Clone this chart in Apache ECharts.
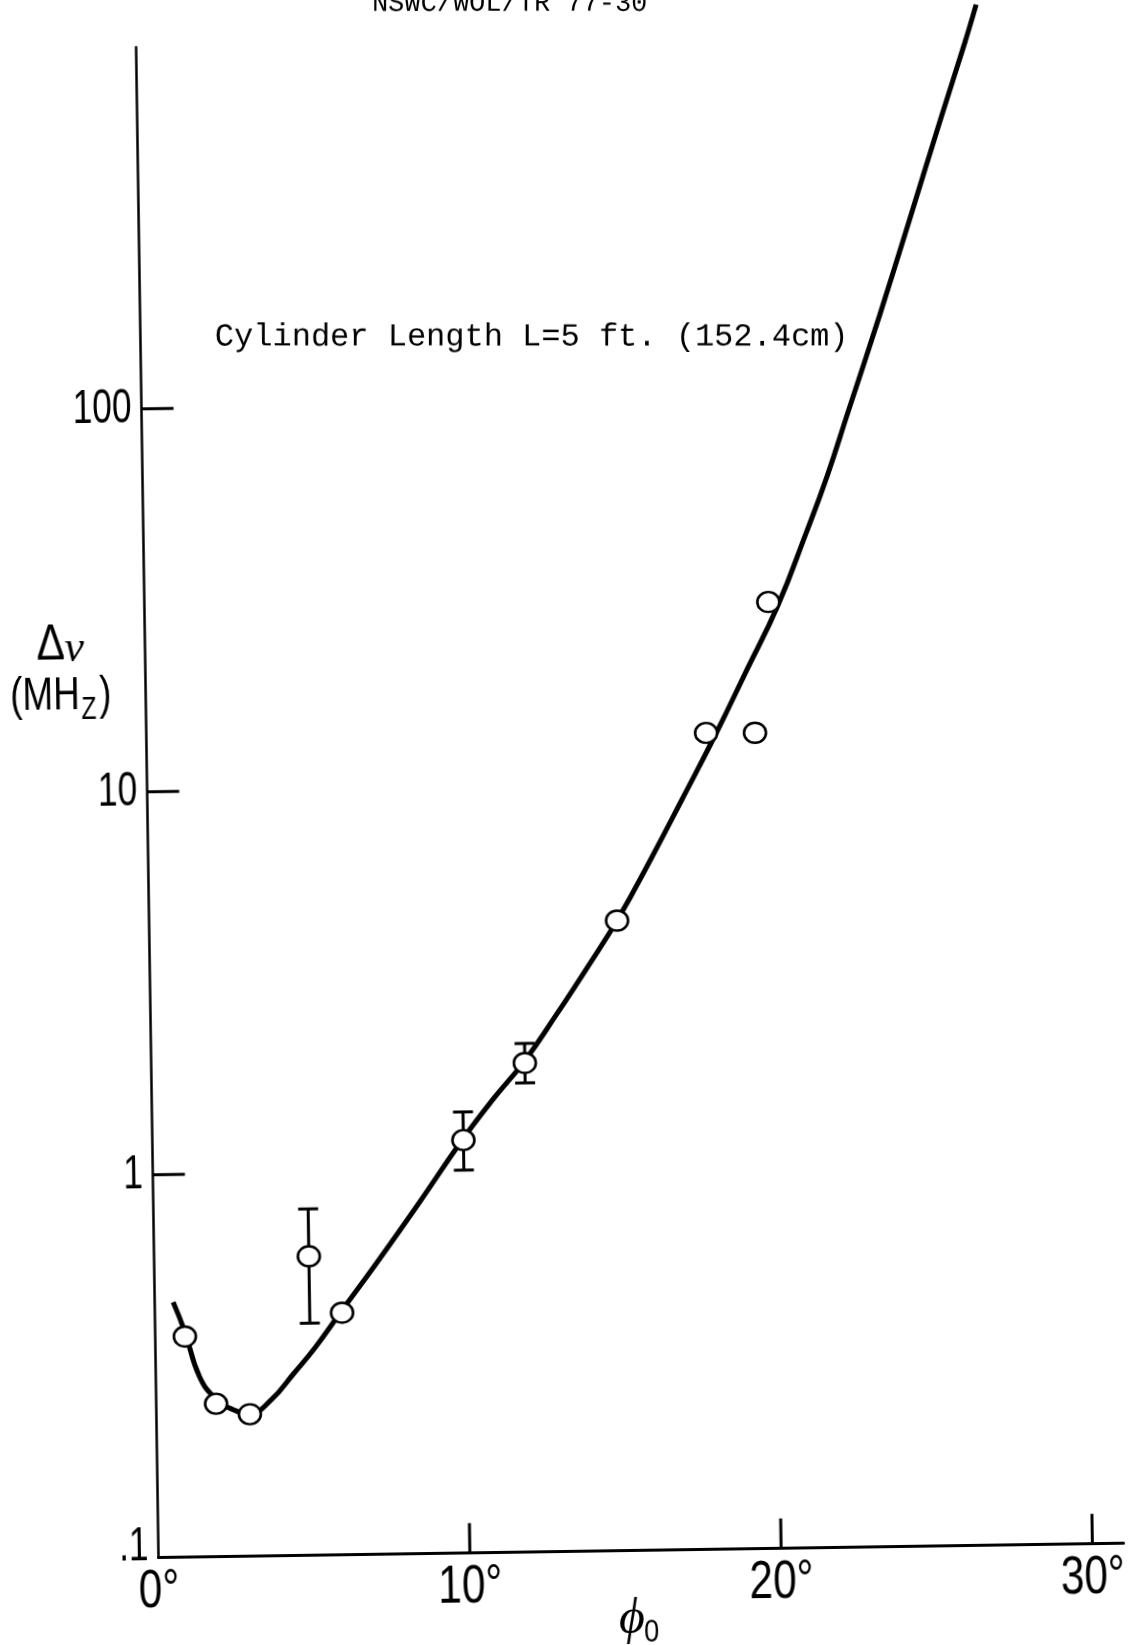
<!DOCTYPE html>
<html><head><meta charset="utf-8">
<script src="https://cdn.jsdelivr.net/npm/echarts@6/dist/echarts.min.js"></script>
<style>
html,body{margin:0;padding:0;background:#fff;width:1147px;height:1645px;overflow:hidden;}
#chart{position:absolute;left:0;top:0;width:1147px;height:1700px;transform:rotate(-0.85deg);transform-origin:158.6px 1557.7px;}
</style></head><body><div id="chart"></div>
<script>
// ---- data ----
const xLabelValues = [0, 10, 20, 30];
const xLabels = ['0°', '10°', '20°', '30°'];
const xTickValues = [10, 20, 30];
const yLabelValues = [0.1, 1, 10, 100];
const yLabels = ['.1', '1', '10', '100'];
const yTickValues = [1, 10, 100];

const phiMeasured = [0.95, 1.92, 3.0, 4.97, 6.01, 9.99, 12.0, 15.03, 17.98, 19.55, 20.04];
const dvMeasured  = [0.377, 0.251, 0.235, 0.604, 0.429, 1.198, 1.894, 4.42, 13.55, 13.5, 29.6];

const errPhi  = [4.97, 9.99, 12.0];
const errLow  = [0.404, 1.0, 1.68];
const errHigh = [0.803, 1.419, 2.13];

const curvePhi = [0.59, 0.95, 1.40, 1.92, 2.46, 3.00, 3.68, 4.43, 5.12, 5.98, 7.18, 8.56, 9.97, 10.97, 12.00, 13.03, 14.07, 15.10, 16.14, 17.18, 18.32, 19.26, 20.34, 21.28, 21.99, 22.69, 23.75, 24.74, 25.83, 26.61, 27.00];
const curveDv  = [0.464, 0.388, 0.296, 0.258, 0.242, 0.236, 0.255, 0.299, 0.348, 0.432, 0.582, 0.830, 1.205, 1.53, 1.92, 2.52, 3.36, 4.52, 6.37, 9.12, 13.6, 19.3, 28.9, 44.5, 62.8, 92.0, 164, 288, 539, 835, 1054];

const headerText = 'NSWC/WOL/TR 77-30';
const noteText = 'Cylinder Length L=5 ft. (152.4cm)';

// ---- chart ----
const SANS = "'Liberation Sans','DejaVu Sans',sans-serif";
const SERIF = "'Liberation Serif','DejaVu Serif',serif";
const MONO = "'Liberation Mono','DejaVu Sans Mono',monospace";
const UNROT = -0.85 * Math.PI / 180;
const chart = echarts.init(document.getElementById('chart'), null, {renderer: 'canvas'});

function txt(x, y, text, font, align, vAlign, extra) {
  return Object.assign({
    type: 'text', x: x, y: y, silent: true,
    style: {text: text, font: font, fill: '#000', align: align, verticalAlign: vAlign, textAlign: align, textVerticalAlign: vAlign}
  }, extra || {});
}

chart.setOption({
  animation: false,
  backgroundColor: 'transparent',
  grid: {left: 158.6, right: 23.4, top: 47.1, bottom: 142.3, containLabel: false},
  xAxis: {
    type: 'value', min: 0, max: 31, interval: 10,
    axisLine: {show: true, lineStyle: {color: '#000', width: 3}},
    axisTick: {show: false}, splitLine: {show: false}, axisLabel: {show: false}
  },
  yAxis: {
    type: 'log', logBase: 10, min: 0.1, max: 879,
    axisLine: {show: true, lineStyle: {color: '#000', width: 2.5}},
    axisTick: {show: false}, splitLine: {show: false}, minorTick: {show: false}, axisLabel: {show: false}
  },
  graphic: [
    txt(395, 7, headerText, "27px " + MONO, 'left', 'middle', {rotation: UNROT}),
    txt(233, 338, noteText, "32px " + MONO, 'left', 'middle', {rotation: UNROT}),
    // Δν
    txt(50, 644, 'Δ', "50px " + SANS, 'left', 'middle', {scaleX: 0.85}),
    txt(78, 648, 'ν', "italic 44px " + SERIF, 'left', 'middle'),
    // (MHz)
    txt(23, 695, '(MH', "46px " + SANS, 'left', 'middle', {scaleX: 0.8}),
    txt(94, 709, 'Z', "31px " + SANS, 'left', 'middle', {scaleX: 0.8}),
    txt(112, 695, ')', "46px " + SANS, 'left', 'middle', {scaleX: 0.8}),
    // φ0
    txt(618, 1627, 'ϕ', "italic 50px " + SERIF, 'left', 'middle'),
    txt(643, 1640, '0', "32px " + SANS, 'left', 'middle', {scaleX: 0.85})
  ],
  series: [
    {
      type: 'line', name: 'fit',
      data: curvePhi.map((x, i) => [x, curveDv[i]]),
      smooth: 0.45, showSymbol: false, clip: false, silent: true,
      lineStyle: {color: '#000', width: 5}, z: 2
    },
    {
      type: 'custom', name: 'errorbars', silent: true, z: 3,
      data: errPhi.map((x, i) => [x, errLow[i], errHigh[i]]),
      renderItem: (params, api) => {
        const lo = api.coord([api.value(0), api.value(1)]);
        const hi = api.coord([api.value(0), api.value(2)]);
        const w = 10;
        const st = {stroke: '#000', lineWidth: 3};
        return {type: 'group', children: [
          {type: 'line', shape: {x1: lo[0], y1: lo[1], x2: hi[0], y2: hi[1]}, style: st},
          {type: 'line', shape: {x1: lo[0] - w, y1: lo[1], x2: lo[0] + w, y2: lo[1]}, style: st},
          {type: 'line', shape: {x1: hi[0] - w, y1: hi[1], x2: hi[0] + w, y2: hi[1]}, style: st}
        ]};
      }
    },
    {
      type: 'scatter', name: 'measured',
      data: phiMeasured.map((x, i) => [x, dvMeasured[i]]),
      symbol: 'circle', symbolSize: [22, 20],
      itemStyle: {color: '#fff', borderColor: '#000', borderWidth: 2.5, opacity: 1},
      z: 5, silent: true
    },
    {
      type: 'custom', name: 'yticks', silent: true, z: 4,
      data: yTickValues.map(v => [0, v]),
      renderItem: (params, api) => {
        const p = api.coord([api.value(0), api.value(1)]);
        return {type: 'line', shape: {x1: p[0], y1: p[1], x2: p[0] + 32, y2: p[1]}, style: {stroke: '#000', lineWidth: 3}};
      }
    },
    {
      type: 'custom', name: 'xticks', silent: true, z: 4,
      data: xTickValues.map(v => [v, 0.1]),
      renderItem: (params, api) => {
        const p = api.coord([api.value(0), api.value(1)]);
        return {type: 'line', shape: {x1: p[0], y1: p[1], x2: p[0], y2: p[1] - 30}, style: {stroke: '#000', lineWidth: 3}};
      }
    },
    {
      type: 'custom', name: 'ylabels', silent: true, z: 4,
      data: yLabelValues.map(v => [0, v]),
      renderItem: (params, api) => {
        const p = api.coord([api.value(0), api.value(1)]);
        const t = yLabels[params.dataIndex];
        const lift = params.dataIndex === 0 ? 11 : 0;
        return txt(p[0] - 10, p[1] - lift, t, "49px " + SANS, 'right', 'middle', {scaleX: 0.72});
      }
    },
    {
      type: 'custom', name: 'xlabels', silent: true, z: 4,
      data: xLabelValues.map(v => [v, 0.1]),
      renderItem: (params, api) => {
        const p = api.coord([api.value(0), api.value(1)]);
        const t = xLabels[params.dataIndex];
        return txt(p[0], p[1] + 8, t, "53px " + SANS, 'center', 'top', {scaleX: 0.8});
      }
    }
  ]
});
</script></body></html>
